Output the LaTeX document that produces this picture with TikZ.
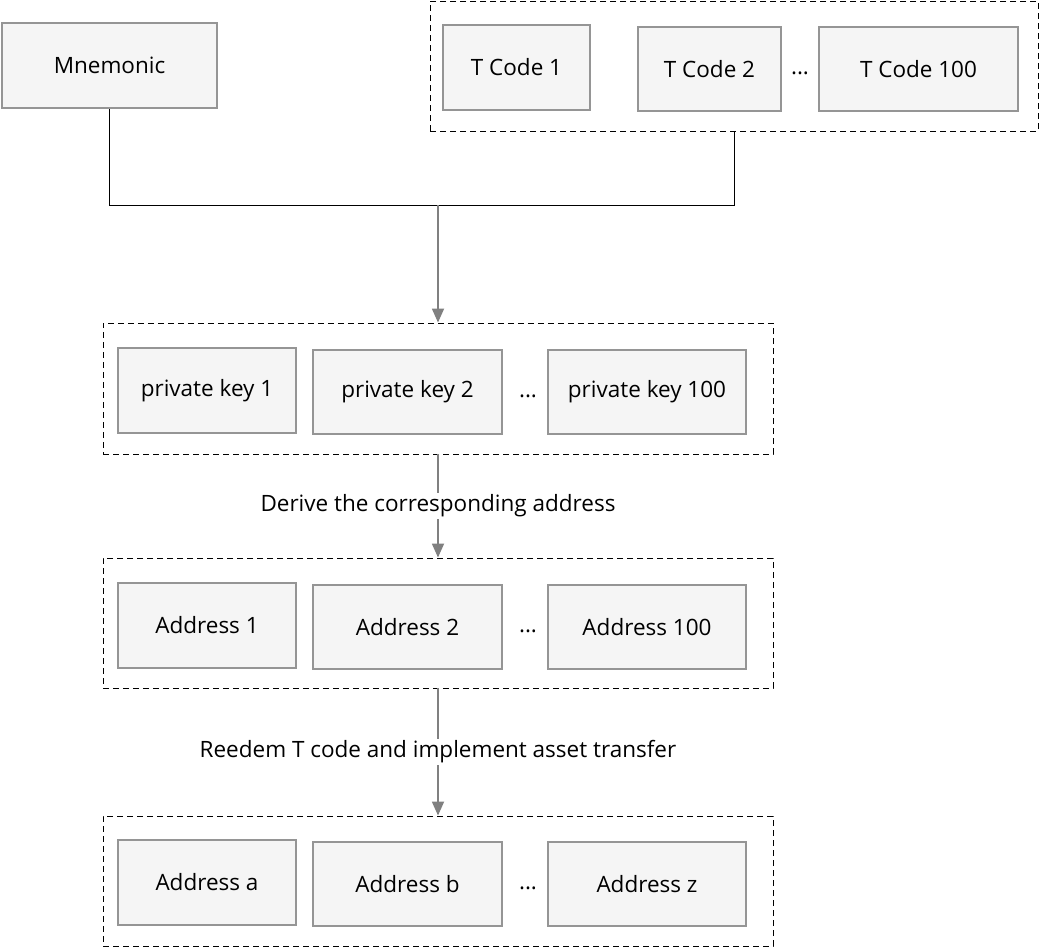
\documentclass[tikz,border=0pt]{standalone}
\usepackage{fontspec}
\setmainfont{Open Sans}
\usetikzlibrary{arrows.meta}

\definecolor{boxfill}{HTML}{F5F5F5}
\definecolor{boxline}{HTML}{959595}
\definecolor{arrline}{HTML}{808080}

\tikzset{
  item/.style={draw=boxline, line width=2.4pt, fill=boxfill, inner sep=0pt,
    font=\fontsize{22.5}{27}\selectfont, minimum height=84pt},
  group/.style={draw=black, dashed, dash pattern=on 6pt off 4pt, line width=0.9pt,
    inner sep=0pt},
  dots/.style={font=\fontsize{22.5}{27}\selectfont},
  joinline/.style={draw=black, line width=1pt},
  flow/.style={draw=arrline, line width=1.8pt, -{Triangle[length=14pt,width=12pt]}},
  flowtext/.style={fill=white, inner sep=2pt, font=\fontsize{22.5}{27}\selectfont}
}

\begin{document}
\begin{tikzpicture}[x=1pt,y=-1pt]
\useasboundingbox (0,0) rectangle (1039,948);

% inputs
\node[item, minimum width=215pt, minimum height=85pt] (mn) at (109.5,65.5) {Mnemonic};

\node[group, minimum width=608pt, minimum height=130pt] (tgrp) at (734,66) {};
\node[item, minimum width=147pt, minimum height=85pt] (t1) at (516.5,67.5) {T Code 1};
\node[item, minimum width=143pt] (t2) at (709.5,69) {T Code 2};
\node[dots] (tdots) at (800,73) {...};
\node[item, minimum width=199pt] (t100) at (918.5,69) {T Code 100};

% private keys
\begin{scope}[shift={(0,0)}]
\node[group, minimum width=670pt, minimum height=131pt] (kgrp) at (438,388.5) {};
\node[item, minimum width=178pt, minimum height=85pt] (k1) at (207,390.5) {private key 1};
\node[item, minimum width=189pt] (k2) at (407.5,392) {private key 2};
\node[dots] (kdots) at (528,396) {...};
\node[item, minimum width=198pt] (k100) at (647,392) {private key 100};
\end{scope}

% addresses
\begin{scope}[shift={(0,234.5)}]
\node[group, minimum width=670pt, minimum height=130pt] (agrp) at (438,388.5) {};
\node[item, minimum width=178pt, minimum height=85pt] (a1) at (207,391) {Address 1};
\node[item, minimum width=189pt] (a2) at (407.5,392.5) {Address 2};
\node[dots] (adots) at (528,396.5) {...};
\node[item, minimum width=198pt] (a100) at (647,392.5) {Address 100};
\end{scope}

% target addresses
\begin{scope}[shift={(0,492.5)}]
\node[group, minimum width=670pt, minimum height=130pt] (bgrp) at (438,388.5) {};
\node[item, minimum width=178pt, minimum height=85pt] (b1) at (207,390) {Address a};
\node[item, minimum width=189pt] (b2) at (407.5,391.5) {Address b};
\node[dots] (bdots) at (528,395.5) {...};
\node[item, minimum width=198pt] (bz) at (647,391.5) {Address z};
\end{scope}

% connectors
\coordinate (jn) at (438,205);
\draw[joinline] (mn.south) |- (jn);
\draw[joinline] (tgrp.south) |- (jn);
\draw[flow] (jn) -- (kgrp.north);

\draw[flow] (kgrp.south) -- (agrp.north)
  node[midway, flowtext] (derive) {Derive the corresponding address};
\draw[flow] (agrp.south) -- (bgrp.north)
  node[midway, flowtext] (redeem) {Reedem T code and implement asset transfer};

\end{tikzpicture}
\end{document}
